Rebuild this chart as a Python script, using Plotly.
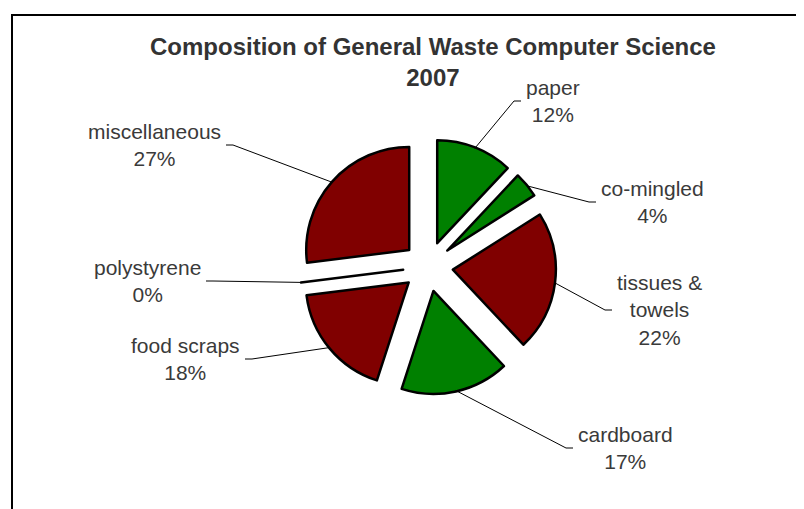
import math
import textwrap
import plotly.graph_objects as go

# ---------------- data ----------------
categories = ["paper", "co-mingled", "tissues & towels", "cardboard",
              "food scraps", "polystyrene", "miscellaneous"]
shares = [12, 4, 22, 17, 18, 0, 27]
slice_colors = ["#008000", "#008000", "#800000", "#008000",
                "#800000", "#800000", "#800000"]
title_lines = ["Composition of General Waste Computer Science", "2007"]

# ---------------- layout constants (page pixels) ----------------
W, H = 804, 509
OFF = 8                      # page body margin offset of the figure
CX, CY = 428, 266.5          # pie centre
R = 103                      # slice radius
PULL = 0.243                 # explode fraction
HALF = R * (1 + PULL)
# text edge anchor for each label: (x, y, side of text relative to anchor)
label_anchor = [(524, 101, "left"), (599, 202, "left"), (615, 310, "left"),
                (576, 448, "left"), (242, 359, "right"), (203, 281, "right"),
                (223, 145, "right")]
GAP, TICK = 3, 7
FONT = "Liberation Sans, Arial, sans-serif"


def px(x):
    return (x - OFF) / W


def py(y):
    return 1 - (y - OFF) / H


fig = go.Figure(go.Pie(
    labels=categories, values=shares, sort=False, direction="clockwise",
    rotation=0, pull=[PULL] * len(shares),
    marker=dict(colors=slice_colors, line=dict(color="black", width=2.5)),
    textinfo="none", hoverinfo="label+percent", showlegend=False,
    domain=dict(x=[px(CX - HALF), px(CX + HALF)],
                y=[py(CY + HALF), py(CY - HALF)]),
))

total = sum(shares)
cum = 0
shapes = []
annotations = []
for name, v, (ax_, ay_, side) in zip(categories, shares, label_anchor):
    mid = (cum + v / 2) / total * 2 * math.pi
    cum += v
    tipx = CX + (HALF - 1) * math.sin(mid)
    tipy = CY - (HALF - 1) * math.cos(mid)
    if side == "left":
        te = ax_ - GAP
        tb = te - TICK
    else:
        te = ax_ + GAP
        tb = te + TICK
    path = "M {} {} L {} {} L {} {}".format(px(tipx), py(tipy), px(tb), py(ay_),
                                            px(te), py(ay_))
    shapes.append(dict(type="path", xref="paper", yref="paper", path=path,
                       line=dict(color="black", width=1)))
    text = "<br>".join(textwrap.wrap(name, 11, break_long_words=False,
                                     break_on_hyphens=False))
    text += "<br>{:.0f}%".format(v / total * 100)
    annotations.append(dict(
        x=px(ax_), y=py(ay_), xref="paper", yref="paper", text=text,
        showarrow=False, xanchor=side, yanchor="middle", align="center",
        font=dict(family=FONT, size=21, color="#3a3a3a")))

annotations.append(dict(
    x=px(432.5), y=py(62), xref="paper", yref="paper",
    text="<br>".join(title_lines), showarrow=False,
    xanchor="center", yanchor="middle", align="center",
    font=dict(family=FONT, size=24, color="#333333", weight="bold")))

# chart frame
shapes.append(dict(type="rect", xref="paper", yref="paper",
                   x0=px(12), x1=px(W + 20), y0=py(H + 20), y1=py(15),
                   line=dict(color="black", width=2)))

fig.update_layout(
    width=W, height=H, autosize=False,
    margin=dict(l=0, r=0, t=0, b=0),
    paper_bgcolor="white", plot_bgcolor="white",
    shapes=shapes, annotations=annotations,
)
fig.write_html("out.html")
